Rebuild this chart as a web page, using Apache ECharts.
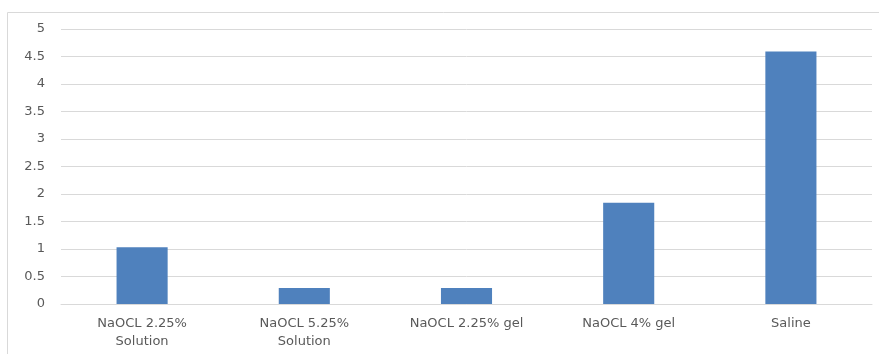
<!DOCTYPE html>
<html>
<head>
<meta charset="utf-8">
<script src="https://cdn.jsdelivr.net/npm/echarts@6/dist/echarts.min.js"></script>
<style>
  html, body { margin: 0; padding: 0; background: #fff; }
  #chart { width: 879px; height: 354px; }
</style>
</head>
<body>
<div id="chart"></div>
<script>
// data
const categories = ['NaOCL 2.25%\nSolution', 'NaOCL 5.25%\nSolution', 'NaOCL 2.25% gel', 'NaOCL 4% gel', 'Saline'];
const values = [1.03, 0.29, 0.29, 1.84, 4.59];

const chart = echarts.init(document.getElementById('chart'));

const option = {
    animation: false,
    graphic: [{
        type: 'rect',
        shape: { x: 7.5, y: 12.5, width: 880, height: 350 },
        style: { fill: 'none', stroke: '#d9d9d9', lineWidth: 1 }
    }],
    grid: { left: 61, right: 7, top: 29, bottom: 50 },
    xAxis: {
        type: 'category',
        data: categories,
        axisTick: { show: false },
        axisLine: { lineStyle: { color: '#d9d9d9' } },
        axisLabel: {
            color: '#595959',
            fontFamily: 'DejaVu Sans',
            fontSize: 13,
            lineHeight: 18,
            margin: 11
        }
    },
    yAxis: {
        type: 'value',
        min: 0,
        max: 5,
        interval: 0.5,
        axisLine: { show: false },
        axisTick: { show: false },
        splitLine: { lineStyle: { color: '#d9d9d9' } },
        axisLabel: {
            color: '#595959',
            fontFamily: 'DejaVu Sans',
            fontSize: 13,
            margin: 16
        }
    },
    series: [{
        type: 'bar',
        data: values,
        barWidth: '31.5%',
        itemStyle: { color: '#4f81bd' }
    }]
};
chart.setOption(option);
</script>
</body>
</html>
